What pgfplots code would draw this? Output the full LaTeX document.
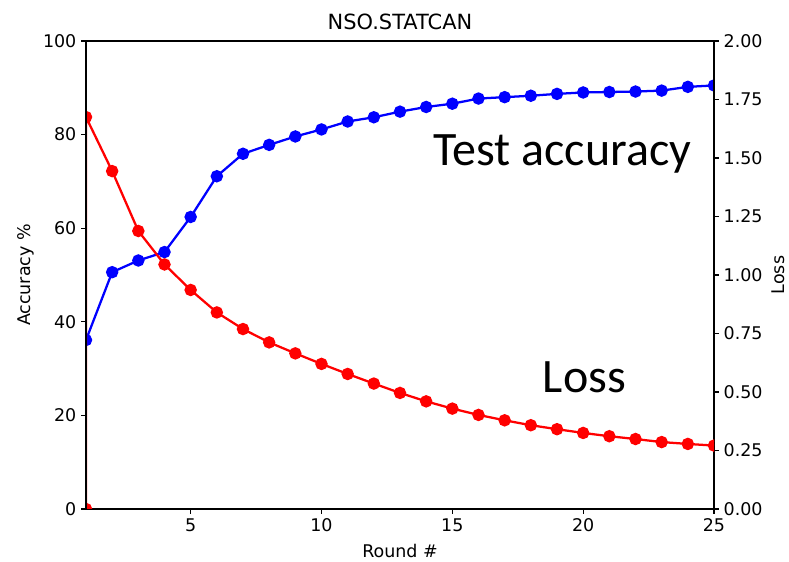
\documentclass[border=0pt]{standalone}
\usepackage{fontspec}
\setmainfont{DejaVu Sans}
\newfontfamily\calib{Carlito}
\usepackage{pgfplots}
\pgfplotsset{compat=1.18}

\newcommand{\lblfont}{\fontsize{13.1}{15}\selectfont}

\pgfplotsset{
  base/.style={scale only axis, width=471pt, height=351pt,
    xmin=1, xmax=25,
    tick align=outside, major tick length=3.7pt,
    every tick/.style={black, line width=0.8pt},
    axis line style={line width=0.8pt},
    /pgf/number format/assume math mode=true,
    tick label style={font=\lblfont},
    label style={font=\lblfont},
    clip marker paths=true},
}

\begin{document}
\begin{tikzpicture}
\begin{axis}[base,
  ymin=0, ymax=100, ytick={0,20,...,100},
  xtick={5,10,15,20,25}, xtick pos=bottom, ytick pos=left,
  xlabel={Round \#}, ylabel={Accuracy \%},
  xlabel style={yshift=-2.5pt},
  title={NSO.STATCAN}, title style={font=\fontsize{15.7}{18}\selectfont, yshift=-1pt}]
\addplot[blue, line width=1.7pt, mark=*, mark size=3.8pt] coordinates {
  (1,36.1) (2,50.6) (3,53.1) (4,54.9) (5,62.4) (6,71.1) (7,75.9) (8,77.8) (9,79.6)
  (10,81.1) (11,82.8) (12,83.7) (13,84.9) (14,85.9) (15,86.6) (16,87.7) (17,88.0)
  (18,88.3) (19,88.7) (20,89.0) (21,89.1) (22,89.2) (23,89.4) (24,90.2) (25,90.5)};
\node[anchor=base west, font=\calib\fontsize{36}{40}\selectfont, inner sep=0pt] at (axis cs:14.27,73.5) {Test accuracy};
\node[anchor=base west, font=\calib\fontsize{36}{40}\selectfont, inner sep=0pt] at (axis cs:18.45,24.9) {Loss};
\end{axis}
\begin{axis}[base,
  ymin=0, ymax=2, ytick={0,0.25,...,2},
  axis y line*=right, axis x line=none,
  yticklabel style={/pgf/number format/.cd, fixed, fixed zerofill, precision=2},
  ylabel={Loss}]
\addplot[red, line width=1.7pt, mark=*, mark size=3.8pt] coordinates {
  (1,0) (1,1.675) (2,1.444) (3,1.188) (4,1.045) (5,0.936) (6,0.840) (7,0.769) (8,0.712)
  (9,0.665) (10,0.620) (11,0.577) (12,0.536) (13,0.496) (14,0.460) (15,0.429)
  (16,0.402) (17,0.379) (18,0.358) (19,0.341) (20,0.325) (21,0.311) (22,0.299)
  (23,0.286) (24,0.278) (25,0.271)};
\end{axis}
\draw[line width=0.8pt] (current axis.south west) -- (current axis.north west);
\pgfresetboundingbox
\path[use as bounding box] ([xshift=-64.5pt, yshift=-39.75pt]current axis.south west)
  rectangle ([xshift=56.25pt, yshift=30.75pt]current axis.north east);
\end{tikzpicture}
\end{document}
